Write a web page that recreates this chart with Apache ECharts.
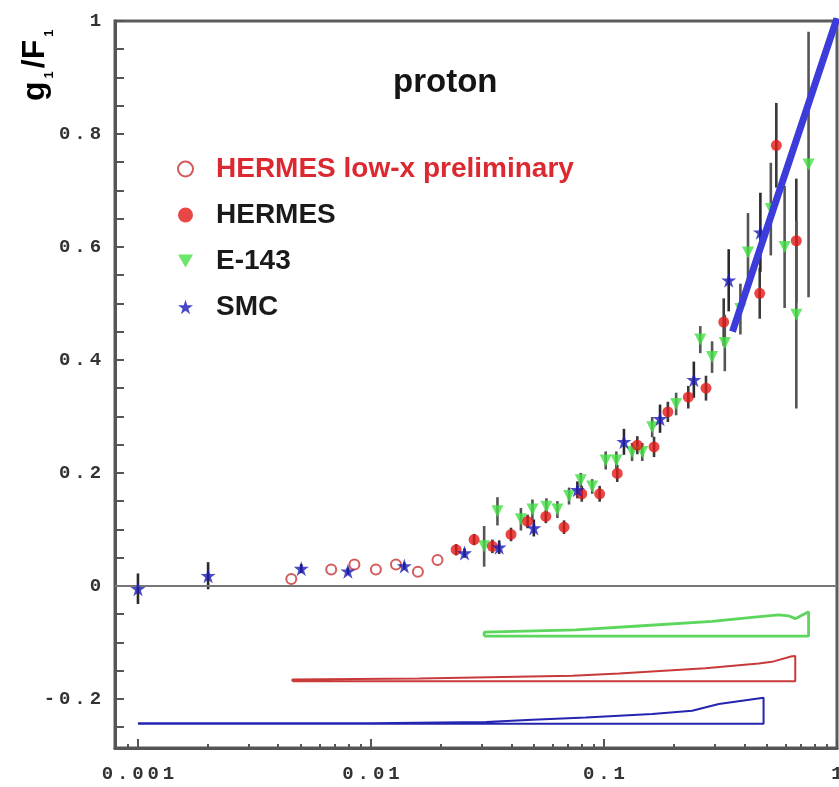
<!DOCTYPE html>
<html>
<head>
<meta charset="utf-8">
<title>g1/F1 proton</title>
<script src="https://cdn.jsdelivr.net/npm/echarts@6/dist/echarts.min.js"></script>
<style>
  html, body { margin: 0; padding: 0; background: #fff; }
  #chart { width: 839px; height: 787px; }
</style>
</head>
<body>
<div id="chart"></div>
<script>
// Spin structure ratio g1/F1 for the proton versus Bjorken x.
// Point rows: [x, g1/F1, statistical error]
const hermesLowX = [
  [0.00455, 0.012], [0.00675, 0.029], [0.00849, 0.038], [0.0105, 0.029],
  [0.0128, 0.038], [0.0159, 0.025], [0.0193, 0.046]
];
const hermes = [
  [0.0232, 0.064, 0.010], [0.0277, 0.082, 0.010], [0.0332, 0.070, 0.012],
  [0.0399, 0.091, 0.012], [0.047, 0.114, 0.012], [0.0563, 0.123, 0.012],
  [0.0674, 0.104, 0.012], [0.0803, 0.163, 0.014], [0.0958, 0.163, 0.014],
  [0.114, 0.199, 0.015], [0.139, 0.249, 0.016], [0.164, 0.246, 0.018],
  [0.188, 0.308, 0.018], [0.23, 0.334, 0.020], [0.274, 0.350, 0.022],
  [0.3265, 0.467, 0.042], [0.466, 0.518, 0.045], [0.549, 0.780, 0.075],
  [0.669, 0.611, 0.110]
];
const e143 = [
  [0.0306, 0.070, 0.036], [0.0349, 0.132, 0.025], [0.044, 0.118, 0.020],
  [0.0493, 0.135, 0.018], [0.0566, 0.140, 0.015], [0.0631, 0.135, 0.015],
  [0.0708, 0.159, 0.015], [0.0795, 0.187, 0.013], [0.089, 0.176, 0.013],
  [0.1017, 0.222, 0.016], [0.113, 0.222, 0.016], [0.132, 0.237, 0.016],
  [0.146, 0.237, 0.016], [0.161, 0.281, 0.018], [0.204, 0.322, 0.020],
  [0.259, 0.436, 0.024], [0.291, 0.405, 0.028], [0.33, 0.430, 0.050],
  [0.385, 0.490, 0.045], [0.415, 0.590, 0.070], [0.52, 0.667, 0.082],
  [0.596, 0.600, 0.108], [0.669, 0.480, 0.166], [0.755, 0.746, 0.235]
];
const smc = [
  [0.001, -0.005, 0.027], [0.002, 0.018, 0.024], [0.00502, 0.0305, 0.008],
  [0.00796, 0.026, 0.006], [0.0139, 0.035, 0.006], [0.0252, 0.058, 0.008],
  [0.0355, 0.0685, 0.012], [0.050, 0.1025, 0.015], [0.0769, 0.170, 0.015],
  [0.1218, 0.255, 0.023], [0.174, 0.296, 0.025], [0.243, 0.365, 0.032],
  [0.343, 0.541, 0.055], [0.469, 0.626, 0.070]
];
// Straight fit drawn at large x
const fitLine = [[0.356, 0.45], [1, 1.005]];
// Systematic error bands (closed outlines)
const bandE143 = [
  [0.0306, -0.089], [0.755, -0.089], [0.755, -0.046], [0.743, -0.047],
  [0.662, -0.058], [0.619, -0.053], [0.561, -0.0515], [0.432, -0.0556],
  [0.291, -0.063], [0.141, -0.071], [0.0757, -0.078], [0.0306, -0.082],
  [0.0306, -0.089]
];
const bandHermes = [
  [0.0046, -0.169], [0.662, -0.169], [0.662, -0.124], [0.64, -0.1246],
  [0.526, -0.1345], [0.461, -0.1375], [0.272, -0.146], [0.116, -0.155],
  [0.0732, -0.159], [0.0161, -0.164], [0.0046, -0.1656], [0.0046, -0.169]
];
const bandSmc = [
  [0.001, -0.244], [0.484, -0.244], [0.484, -0.198], [0.476, -0.198],
  [0.311, -0.209], [0.239, -0.221], [0.161, -0.227], [0.0835, -0.233],
  [0.0493, -0.237], [0.0312, -0.241], [0.01, -0.243], [0.001, -0.243],
  [0.001, -0.244]
];
// Axis labels
const xLabelValues = [0.001, 0.01, 0.1, 1];
const yLabelValues = [-0.2, 0, 0.2, 0.4, 0.6, 0.8, 1];
const legendNames = ['HERMES low-x preliminary', 'HERMES', 'E-143', 'SMC'];

const X_MIN = 0.000797, X_MAX = 1;
const Y_MIN = -0.287, Y_MAX = 1;

// minor x ticks at 2..9 of each decade, y ticks every 0.05
const xMinorTicks = [0.0008, 0.0009];
[0.001, 0.01, 0.1].forEach(d => { for (let k = 2; k <= 9; k++) xMinorTicks.push(+(k * d).toPrecision(3)); });
const yTickValues = [];
for (let i = -5; i <= 20; i++) yTickValues.push(+(i * 0.05).toFixed(2));

const STAR = 'path://M50,0 L61.2,34.5 L97.6,34.5 L68.2,55.9 L79.4,90.5 L50,69.1 L20.6,90.5 L31.8,55.9 L2.4,34.5 L38.8,34.5 Z';
const DOWN_TRI = 'path://M0,0 L100,0 L50,87 Z';
const MONO = "'Liberation Mono', 'DejaVu Sans Mono', monospace";
const SANS = "'Liberation Sans', Arial, Helvetica, sans-serif";

// wide monospaced tick digits: each character in its own fixed cell
const monoRich = { c: { width: 15.3, align: 'center', fontFamily: MONO, fontSize: 19, fontWeight: 'bold', color: '#333' } };
const spaced = v => String(v).split('').map(ch => '{c|' + ch + '}').join('');

function errorBars(name, rows, color) {
  return {
    type: 'custom', name: name + ' err', z: 3, silent: true,
    data: rows,
    encode: { x: 0, y: 1 },
    renderItem: (params, api) => {
      const x = api.value(0), y = api.value(1), e = api.value(2);
      const a = api.coord([x, y - e]);
      const b = api.coord([x, y + e]);
      return { type: 'line', shape: { x1: a[0], y1: a[1], x2: b[0], y2: b[1] },
               style: { stroke: color, lineWidth: 2.6 } };
    }
  };
}

function band(rows, color, width) {
  return {
    type: 'line', data: rows, symbol: 'none', z: 2, silent: true,
    lineStyle: { color: color, width: width }
  };
}

const chart = echarts.init(document.getElementById('chart'), null, { renderer: 'canvas' });
chart.setOption({
  animation: false,
  backgroundColor: '#fff',
  title: {
    text: 'proton', left: 388, top: 61,
    textStyle: { fontFamily: SANS, fontSize: 33, fontWeight: 'bold', color: '#151515' }
  },
  grid: {
    left: 115, right: 2, top: 21, bottom: 39, outerBoundsMode: 'none', containLabel: false,
    show: true, borderColor: '#5c5c5c', borderWidth: 3, backgroundColor: 'transparent'
  },
  legend: {
    orient: 'vertical', left: 172, top: 149,
    itemWidth: 15, itemHeight: 15, itemGap: 16,
    data: [
      { name: legendNames[0], textStyle: { color: '#dc2830' } },
      { name: legendNames[1] },
      { name: legendNames[2], icon: DOWN_TRI },
      { name: legendNames[3] }
    ],
    textStyle: { fontFamily: SANS, fontSize: 28, fontWeight: 'bold', color: '#1a1a1a', lineHeight: 30, padding: [0, 0, 0, 18] },
    selectedMode: false
  },
  xAxis: [
    {
      type: 'log', logBase: 10, min: X_MIN, max: X_MAX, position: 'bottom',
      axisLine: { show: true, onZero: false, lineStyle: { color: '#555', width: 3 } },
      axisTick: { show: true, inside: true, length: 9, customValues: xLabelValues, lineStyle: { color: '#555', width: 2 } },
      axisLabel: { show: true, customValues: xLabelValues, margin: 17, formatter: spaced, rich: monoRich },
      splitLine: { show: false }, minorTick: { show: false }
    },
    {
      type: 'log', logBase: 10, min: X_MIN, max: X_MAX, position: 'bottom',
      axisLine: { show: false, onZero: false },
      axisTick: { show: true, inside: true, length: 4, customValues: xMinorTicks, lineStyle: { color: '#555', width: 2 } },
      axisLabel: { show: false }, splitLine: { show: false }
    }
  ],
  yAxis: {
    type: 'value', min: Y_MIN, max: Y_MAX,
    axisLine: { show: true, onZero: false, lineStyle: { color: '#555', width: 3 } },
    axisTick: { show: true, inside: true, length: 9, customValues: yTickValues, lineStyle: { color: '#555', width: 2 } },
    axisLabel: { show: true, customValues: yLabelValues, margin: 12, formatter: spaced, rich: monoRich },
    splitLine: { show: false }
  },
  graphic: [{
    // vertical axis title, subscripts dropped below the baseline
    type: 'text', x: 35, y: 101, rotation: Math.PI / 2,
    style: {
      text: '{a|g}{s|1}{a|/F}{s|1}',
      align: 'left', verticalAlign: 'middle',
      rich: {
        a: { fontFamily: SANS, fontSize: 32, lineHeight: 32, fontWeight: 'bold', color: '#151515', verticalAlign: 'top' },
        s: { fontFamily: SANS, fontSize: 13, lineHeight: 13, fontWeight: 'bold', color: '#151515',
             verticalAlign: 'top', padding: [24, 3, 0, 3] }
      }
    }
  }],
  series: [
    Object.assign(band(bandSmc, '#2424b0', 2), {
      markLine: { silent: true, symbol: 'none', label: { show: false },
                  lineStyle: { color: '#777', width: 2, type: 'solid' }, data: [{ yAxis: 0 }] }
    }),
    band(bandHermes, '#c83a3a', 2),
    band(bandE143, '#5cd65c', 2.8),
    errorBars('HERMES', hermes, '#3a3a3a'),
    errorBars('E-143', e143, '#555'),
    errorBars('SMC', smc, '#2a2a2a'),
    {
      name: legendNames[0], type: 'scatter', data: hermesLowX, z: 4,
      symbol: 'circle', symbolSize: 10,
      itemStyle: { color: '#fff', borderColor: '#c83232', borderWidth: 2 }
    },
    {
      name: legendNames[2], type: 'scatter', data: e143, z: 5,
      symbol: 'triangle', symbolRotate: 180, symbolSize: 12,
      itemStyle: { color: '#45e045' }
    },
    {
      name: legendNames[1], type: 'scatter', data: hermes, z: 6,
      symbol: 'circle', symbolSize: 11,
      itemStyle: { color: '#e31818' }
    },
    {
      name: legendNames[3], type: 'scatter', data: smc, z: 7,
      symbol: STAR, symbolSize: 15,
      itemStyle: { color: '#1c1cb8' }
    },
    {
      name: 'fit', type: 'line', data: fitLine, symbol: 'none', z: 8, silent: true,
      lineStyle: { color: '#3c3cda', width: 7, cap: 'butt' }
    }
  ]
});
</script>
</body>
</html>
